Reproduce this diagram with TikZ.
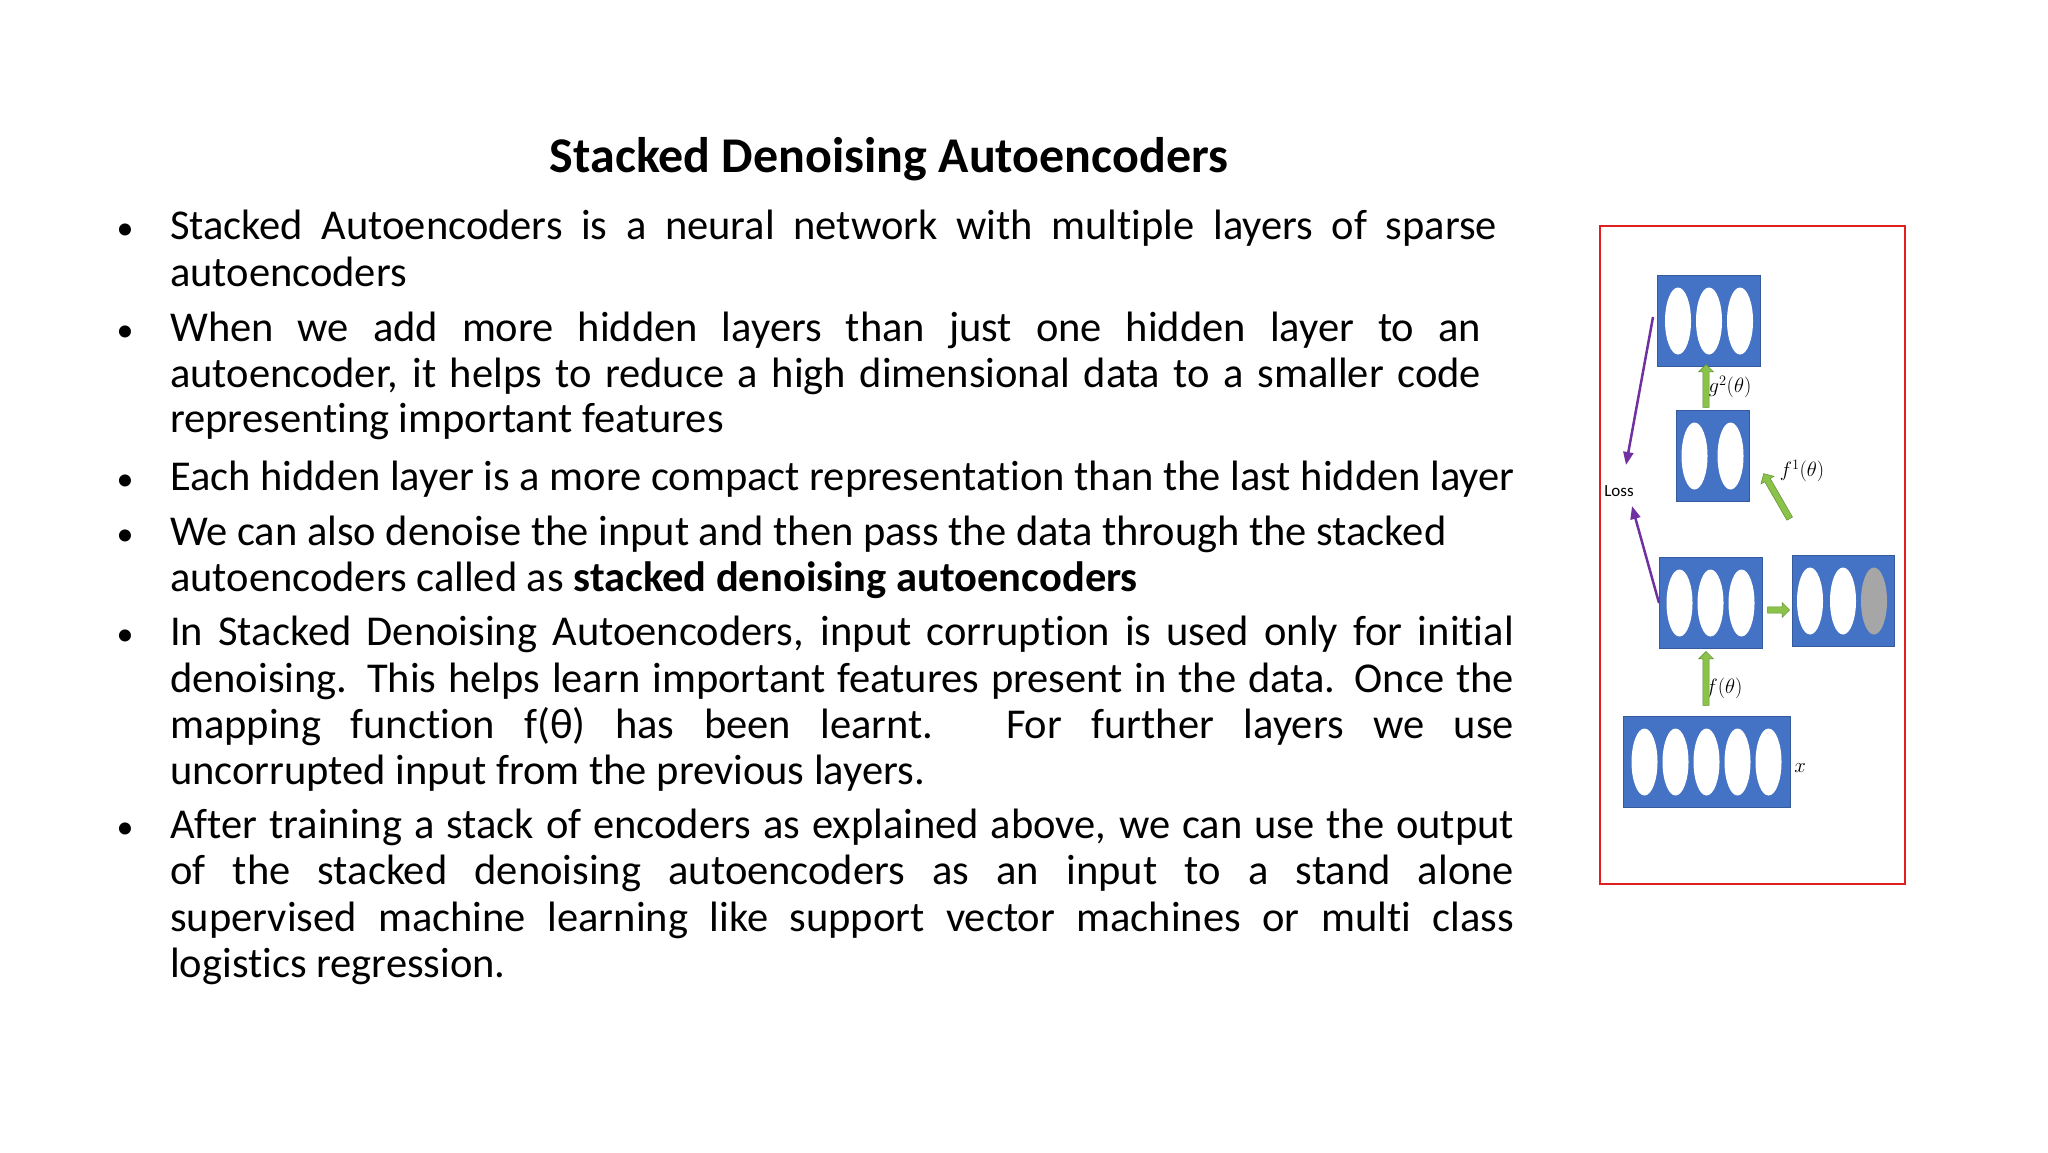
\documentclass[tikz,border=0pt]{standalone}
\usepackage{fontspec}
\setmainfont[Ligatures=NoCommon]{Carlito}
\usetikzlibrary{shapes.arrows,arrows.meta,calc}
\definecolor{bblue}{HTML}{4472C4}
\definecolor{agreen}{HTML}{8BC34A}
\definecolor{dgreen}{HTML}{5E8C31}
\definecolor{purp}{HTML}{7030A0}
\definecolor{redf}{HTML}{E02020}
\newcommand{\jl}[2]{\makebox[#1pt][s]{#2}}
\tikzset{
 txt/.style={anchor=base west,inner sep=0pt,font=\fontsize{42.5}{48}\selectfont},
 bul/.style={anchor=base,inner sep=0pt,font=\fontsize{34}{40}\selectfont},
 layer/.style={fill=bblue,draw=bblue!80!black,minimum height=91pt,inner sep=0pt},
 neur/.style={fill=white,draw=none},
 garrow/.style={single arrow,fill=agreen,draw=dgreen,line width=0.5pt,minimum width=15pt,single arrow head extend=3pt,inner sep=2pt},
 parrow/.style={draw=purp,line width=2.5pt,-{Triangle[length=13pt,width=10pt]}},
 lbl/.style={font=\fontsize{20}{22}\selectfont,inner sep=1pt}
}
\begin{document}
\begin{tikzpicture}[x=1pt,y=-1pt]
\useasboundingbox (0,0) rectangle (2048,1152);
\node[anchor=base,inner sep=0pt,font=\fontsize{50}{56}\bfseries] (title) at (889,172) {Stacked Denoising Autoencoders};
% bullets
\foreach \yy/\n in {239/b1,341/b2,490/b3,545/b4,645/b5,838/b6}{\node[bul] (\n) at (125,\yy) {•};}
\node[txt] (l1) at (170,239) {\jl{1327}{Stacked Autoencoders is a neural network with multiple layers of sparse}};
\node[txt] (l2) at (170,286) {autoencoders};
\node[txt] (l3) at (170,341) {\jl{1311}{When we add more hidden layers than just one hidden layer to an}};
\node[txt] (l4) at (170,387) {\jl{1311}{autoencoder, it helps to reduce a high dimensional data to a smaller code}};
\node[txt] (l5) at (170,432) {representing important features};
\node[txt] (l6) at (170,490) {Each hidden layer is a more compact representation than the last hidden layer};
\node[txt] (l7) at (170,545) {We can also denoise the input and then pass the data through the stacked};
\node[txt] (l8) at (170,591) {autoencoders called as \textbf{stacked denoising autoencoders}};
\node[txt] (l9) at (170,645) {\jl{1344}{In Stacked Denoising Autoencoders, input corruption is used only for initial}};
\node[txt] (l10) at (170,692) {\jl{1344}{denoising. This helps learn important features present in the data. Once the}};
\node[txt] (l11) at (170,738) {\jl{1344}{mapping function f(θ) has been learnt. For further layers we use}};
\node[txt] (l12) at (170,784) {uncorrupted input from the previous layers.};
\node[txt] (l13) at (170,838) {\jl{1344}{After training a stack of encoders as explained above, we can use the output}};
\node[txt] (l14) at (170,884) {\jl{1344}{of the stacked denoising autoencoders as an input to a stand alone}};
\node[txt] (l15) at (170,931) {\jl{1344}{supervised machine learning like support vector machines or multi class}};
\node[txt] (l16) at (170,977) {logistics regression.};
% diagram frame
\node[draw=redf,line width=1.5pt,minimum width=305pt,minimum height=658pt,inner sep=0pt] (frame) at (1752.5,555) {};
% layers
\node[layer,minimum width=103pt] (top) at (1709,321) {};
\node[layer,minimum width=73pt] (mid) at (1712.5,456) {};
\node[layer,minimum width=103pt] (hid) at (1710.5,603) {};
\node[layer,minimum width=102pt] (cor) at (1843,601) {};
\node[layer,minimum width=167pt] (inp) at (1706.5,762) {};
\foreach \cx in {-31,0,31}{\fill[neur] ($(top)+(\cx,0)$) ellipse (13pt and 33.5pt);}
\foreach \cx in {-18,18}{\fill[neur] ($(mid)+(\cx,0)$) ellipse (13pt and 33.5pt);}
\foreach \cx in {-31,0,31}{\fill[neur] ($(hid)+(\cx,0)$) ellipse (13pt and 33.5pt);}
\foreach \cx in {-33,0}{\fill[neur] ($(cor)+(\cx,0)$) ellipse (13pt and 33.5pt);}
\fill[gray!70] ($(cor)+(31,0)$) ellipse (13pt and 33.5pt);
\foreach \cx in {-62,-31,0,31,62}{\fill[neur] ($(inp)+(\cx,0)$) ellipse (13pt and 33.5pt);}
% labels
\node[lbl,font=\fontsize{17}{19}\selectfont] (loss) at (1619,491) {Loss};
\node[lbl] (xl) at (1800,768) {$x$};
\node[lbl] (gl) at (1730,387) {$g^2(\theta)$};
\node[lbl] (f1l) at (1802,471) {$f^1(\theta)$};
\node[lbl] (fl) at (1724,688) {$f(\theta)$};
% green arrows
\node[garrow,rotate=90,minimum height=43pt] (a1) at (1706,387.5) {};
\node[garrow,rotate=90,minimum height=54pt] (a2) at (1706,680) {};
\node[garrow,minimum height=22pt] (a3) at (1777,610) {};
\node[garrow,rotate=120,minimum height=52pt] (a4) at (1777.5,497.5) {};
% purple
\coordinate (p1) at (1653,317);
\coordinate (p2) at (1659,603);
\coordinate (q1) at (1626,465);
\coordinate (q2) at (1632,506);
\draw[parrow] (p1) -- (q1);
\draw[parrow] (p2) -- (q2);
\end{tikzpicture}
\end{document}
